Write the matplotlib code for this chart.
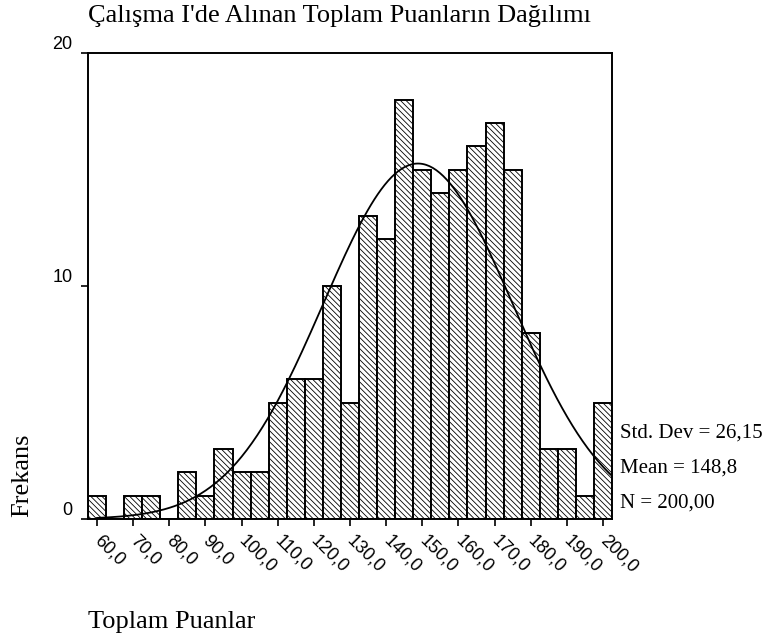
import numpy as np
import matplotlib
matplotlib.use("Agg")
import matplotlib.pyplot as plt
import matplotlib.transforms as mtransforms

# Histogram data (bin centres, bin width 5)
puan = [60, 65, 70, 75, 80, 85, 90, 95, 100, 105, 110, 115, 120, 125, 130,
        135, 140, 145, 150, 155, 160, 165, 170, 175, 180, 185, 190, 195, 200]
frekans = [1, 0, 1, 1, 0, 2, 1, 3, 2, 2, 5, 6, 6, 10, 5,
           13, 12, 18, 15, 14, 15, 16, 17, 15, 8, 3, 3, 1, 5]
bin_genislik = 5

# Summary statistics shown next to the plot
std_dev = 26.15
ortalama = 148.8
n = 200

x_ticks = [60, 70, 80, 90, 100, 110, 120, 130, 140, 150, 160, 170, 180, 190, 200]
y_ticks = [0, 10, 20]

plt.rcParams['hatch.linewidth'] = 0.6
serif = 'Liberation Serif'
sans = 'Liberation Sans'

fig = plt.figure(figsize=(7.65, 6.4), dpi=100)
ax = fig.add_axes([88 / 765, 1 - 519 / 640, (612 - 88) / 765, (519 - 53) / 640])

ax.bar(puan, frekans, width=bin_genislik, color='white', edgecolor='black',
       linewidth=1.4, hatch='\\\\\\\\\\\\')

# Normal curve for the given mean and std
xs = np.linspace(60, 202.5, 300)
ys = n * bin_genislik * np.exp(-0.5 * ((xs - ortalama) / std_dev) ** 2) / (std_dev * np.sqrt(2 * np.pi))
ax.plot(xs, ys, color='black', linewidth=1.3)

ax.set_xlim(57.5, 202.5)
ax.set_ylim(0, 20)
ax.set_xticks(x_ticks)
ax.set_xticklabels([f"{v:.1f}".replace('.', ',') for v in x_ticks],
                   rotation=-45, ha='left', va='center', rotation_mode='anchor',
                   fontfamily=sans, fontsize=13)
# shift the slanted labels a bit to the right, like the original
kaydir = mtransforms.ScaledTranslation(7 / 100, 0, fig.dpi_scale_trans)
for lab in ax.get_xticklabels():
    lab.set_transform(lab.get_transform() + kaydir)
ax.set_yticks(y_ticks)
ax.set_yticklabels([str(v) for v in y_ticks], fontfamily=sans, fontsize=13)
for lab in ax.get_yticklabels():
    lab.set_verticalalignment('bottom')
ax.tick_params(axis='both', direction='out', length=5, width=1.2, color='black')
ax.tick_params(axis='x', pad=9)
ax.tick_params(axis='y', pad=6)
for s in ax.spines.values():
    s.set_linewidth(1.4)

# Texts around the plot
fig.text(88 / 765, 1 - 22 / 640, "Çalışma I'de Alınan Toplam Puanların Dağılımı",
         fontfamily=serif, fontsize=19, ha='left', va='baseline')
fig.text(88 / 765, 1 - 628 / 640, "Toplam Puanlar",
         fontfamily=serif, fontsize=19, ha='left', va='baseline')
fig.text(22 / 765, 1 - 517 / 640, "Frekans", rotation=90,
         fontfamily=serif, fontsize=19, ha='center', va='bottom')

stat_y = [438, 473, 508]
stat_txt = ["Std. Dev = " + f"{std_dev:.2f}".replace('.', ','),
            "Mean = " + f"{ortalama:.1f}".replace('.', ','),
            "N = " + f"{n:.2f}".replace('.', ',')]
for yy, tt in zip(stat_y, stat_txt):
    fig.text(620 / 765, 1 - yy / 640, tt, fontfamily=serif, fontsize=15,
             ha='left', va='baseline')

fig.savefig('out.png', dpi=100)
